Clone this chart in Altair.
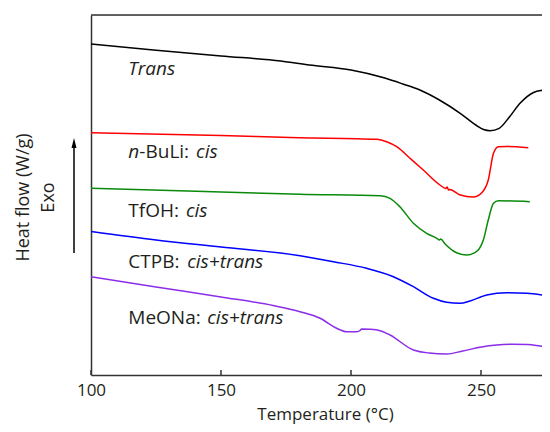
import altair as alt
import pandas as pd

# ---------------- data ----------------
series_names = ["Trans", "n-BuLi: cis", "TfOH: cis", "CTPB: cis+trans", "MeONa: cis+trans"]
series_colors = ["#000000", "#ff0000", "#0a8a0a", "#0000ff", "#8c2de8"]

trans_T = [100, 124, 150, 173, 184, 200, 213, 220, 226.5, 234, 242, 248, 251, 253.5, 257, 261, 265, 270, 273, 276.5, 290]
trans_v = [334, 328, 322, 317, 313, 308, 300, 294, 288, 278, 264.7, 253, 248.5, 247.3, 249.7, 261.3, 274.7, 285.3, 287.5, 288, 287]

buli_T = [100, 150, 180, 210, 213.7, 217.6, 222.7, 227.8, 234.2, 236.5, 237, 237.5, 238, 242, 247, 250.3, 252.8, 254.8, 256.7, 260, 268.2]
buli_v = [245.3, 242.4, 240.3, 238.7, 236.3, 231.3, 219.7, 208, 193, 189.5, 191, 188, 188.5, 183, 181, 185.3, 198, 224.7, 231.3, 231.5, 230.3]

tfoh_T = [100, 150, 180.4, 211.2, 215, 218.8, 224, 229.1, 233, 234, 234.5, 236.2, 240.6, 244.5, 247.7, 250.9, 252.8, 254.8, 256.7, 268.8]
tfoh_v = [189.7, 186, 183.7, 182.3, 179.7, 171.3, 154.7, 144.7, 139.7, 138, 139, 134, 125.3, 123, 125.3, 138, 158, 174.7, 177.3, 176.3]

ctpb_T = [100, 125, 150, 180.4, 193.2, 206, 216.3, 224, 231.7, 236.8, 241.9, 245.8, 252.2, 259.9, 267.6, 276.5, 290]
ctpb_v = [146.5, 138, 131, 122.3, 116.3, 109.7, 101.3, 91.3, 79.7, 75.7, 74.7, 77, 83, 85.3, 84.7, 82, 78]

meona_T = [100, 125, 150, 170, 180.4, 188.1, 194.5, 198.3, 202.2, 203.5, 204.1, 207.3, 211.2, 215, 224, 230,
           236.8, 243, 249.6, 256, 262.4, 268, 272.7, 276.5, 290]
meona_v = [101.3, 91, 81, 72.5, 66.3, 59.7, 49.7, 46.3, 46.3, 47.5, 49, 48.7, 47.3, 43, 28, 25,
           24, 27, 30.7, 33, 33.7, 33.5, 32, 30.7, 28]

x_ticks = [100, 150, 200, 250]

# label pieces: text, italic?, temperature of left edge, heat-flow of baseline
label_text = ["Trans", "n", "-BuLi: ", "cis", "TfOH: ", "cis", "CTPB: ", "cis+trans", "MeONa: ", "cis+trans"]
label_italic = [True, True, False, True, False, True, False, True, False, True]
label_T = [114.35, 114.35, 118.6, 140.4, 114.35, 136.5, 114.35, 137.0, 114.35, 144.7]
label_v = [303, 219.7, 219.7, 219.7, 161.3, 161.3, 109.7, 109.7, 54, 54]

# ---------------- build tables ----------------
rows = []
for name, Ts, vs in zip(series_names,
                        [trans_T, buli_T, tfoh_T, ctpb_T, meona_T],
                        [trans_v, buli_v, tfoh_v, ctpb_v, meona_v]):
    for t, v in zip(Ts, vs):
        rows.append({"series": name, "T": t, "v": v})
curves = pd.DataFrame(rows)
labels = pd.DataFrame({"text": label_text, "italic": label_italic, "T": label_T, "v": label_v})
ticks = pd.DataFrame({"T": x_ticks})
one = pd.DataFrame({"a": [0]})

FONT = "Open Sans"
TXT = "#231f20"
FRAME = "#333333"
W, H = 451, 360

xscale = alt.Scale(domain=[100, 100 + W / 2.6], nice=False, zero=False)
yscale = alt.Scale(domain=[3, 363], nice=False, zero=False)

lines = alt.Chart(curves).mark_line(strokeWidth=1.5, interpolate="monotone", clip=True).encode(
    x=alt.X("T:Q", scale=xscale,
            axis=alt.Axis(values=x_ticks, ticks=False, tickSize=0, domain=True, domainColor=FRAME,
                          domainWidth=1.5, grid=False, labelFlush=False,
                          labelFontSize=17, labelPadding=20, labelBaseline="alphabetic", labelColor=TXT,
                          labelFont=FONT, title="Temperature (°C)", titleFontSize=17,
                          titleFontWeight="normal", titleColor=TXT, titleFont=FONT,
                          titleX=234, titleY=44.5, titleBaseline="alphabetic", titleAlign="center")),
    y=alt.Y("v:Q", scale=yscale,
            axis=alt.Axis(labels=False, ticks=False, tickSize=0, domain=True, domainColor=FRAME,
                          domainWidth=1.5, grid=False,
                          title=["Heat flow (W/g)", "Exo"], titleAngle=270, titleX=-68, titleY=182,
                          titleAlign="center", titleBaseline="middle", titleLineHeight=25,
                          titleFontSize=18, titleFontWeight="normal", titleColor=TXT, titleFont=FONT)),
    color=alt.Color("series:N", scale=alt.Scale(domain=series_names, range=series_colors), legend=None),
    detail="series:N",
)

txt_norm = alt.Chart(labels).transform_filter("!datum.italic").mark_text(
    align="left", baseline="alphabetic", fontSize=19, font=FONT, color=TXT
).encode(x=alt.X("T:Q", scale=xscale), y=alt.Y("v:Q", scale=yscale), text="text:N")

txt_ital = alt.Chart(labels).transform_filter("datum.italic").mark_text(
    align="left", baseline="alphabetic", fontSize=19, font=FONT, fontStyle="italic", color=TXT
).encode(x=alt.X("T:Q", scale=xscale), y=alt.Y("v:Q", scale=yscale), text="text:N")

tick_marks = alt.Chart(ticks).mark_rule(color=FRAME, strokeWidth=1.5).encode(
    x=alt.X("T:Q", scale=xscale), y=alt.value(H - 5), y2=alt.value(H)
)

top_border = alt.Chart(one).mark_rule(color=FRAME, strokeWidth=1.5).encode(
    x=alt.value(0), x2=alt.value(W), y=alt.value(0)
)

arrow_shaft = alt.Chart(one).mark_rule(color="black", strokeWidth=1.5).encode(
    x=alt.value(-17), y=alt.value(130), y2=alt.value(238)
)
arrow_head = alt.Chart(one).mark_point(
    shape="M0,-1L0.5,1L-0.5,1Z", size=100, filled=True, color="black", opacity=1
).encode(x=alt.value(-17), y=alt.value(128))

chart = alt.layer(lines, txt_norm, txt_ital, tick_marks, top_border, arrow_shaft, arrow_head).properties(
    width=W, height=H,
    padding={"left": 83, "top": 7, "right": 0, "bottom": 49},
    autosize=alt.AutoSizeParams(type="none"),
).configure_view(stroke=None).configure(font=FONT)

chart.save("out.html", embed_options={"renderer": "svg", "actions": False})
